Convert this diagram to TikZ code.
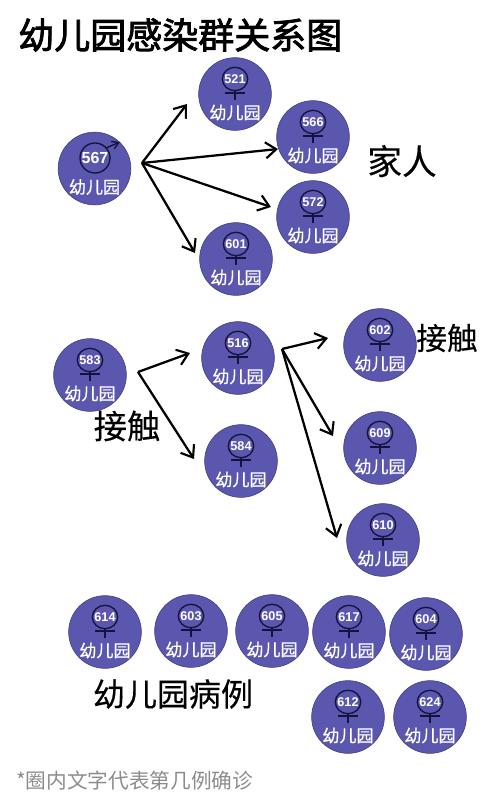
\documentclass[tikz,border=0pt]{standalone}
\usepackage{fontspec}
\setmainfont{Liberation Sans}
\newfontfamily\cjk{Noto Sans CJK SC}
\newfontfamily\cjkm{Noto Sans CJK SC}[FakeBold=0.7]
\newfontfamily\cjkl{Noto Sans CJK SC}[FakeBold=0.25]
\newfontfamily\cjkb{Noto Sans CJK SC}[FakeBold=2.2]
\usetikzlibrary{arrows.meta}
\definecolor{kidblue}{HTML}{5B57AE}
\definecolor{symb}{HTML}{14123F}
\tikzset{
  disc/.style={circle,fill=kidblue,draw=kidblue!75!black,line width=0.5pt,minimum size=54.5pt,inner sep=0pt},
  numtext/.style={text=white,font=\bfseries\fontsize{9.5pt}{10pt}\selectfont,inner sep=0pt},
  kidlabel/.style={text=white,font=\cjkm\fontsize{12.8pt}{13pt}\selectfont,inner sep=0pt},
  ring/.style={draw=symb,line width=1pt},
  arrowline/.style={draw=black,line width=1.7pt,-{Straight Barb[length=8pt,width=12pt,line width=1.6pt]}},
  big/.style={text=black,inner sep=0pt,font=\cjkl\fontsize{23.5pt}{24pt}\selectfont},
}
\newcommand{\kidf}[4]{%
  \node[disc] (k#4) at (#1,#2) {};
  \draw[ring] (#1,#2-15) ellipse[x radius=12.7,y radius=11.7];
  \draw[ring] (#1,#2-3.3) -- (#1,#2+6) (#1-10,#2-1) -- (#1+10,#2-1);
  \node[numtext] at (#1,#2-15) {#3};
  \node[kidlabel] at (#1,#2+18.5) {幼儿园};
}
\begin{document}
\begin{tikzpicture}[x=0.75pt,y=-0.75pt]
\useasboundingbox (0,0) rectangle (487,800);
\node[anchor=west,inner sep=0pt,font=\cjkb\fontsize{27pt}{28pt}\selectfont] (title) at (18,35) {幼儿园感染群关系图};

% male
\node[disc] (k567) at (94.5,168.5) {};
\draw[ring] (95,158) circle[radius=15];
\draw[ring,-{Straight Barb[length=5pt,width=6pt]}] (106,148) -- (120,142);
\node[numtext,font=\bfseries\fontsize{12pt}{12pt}\selectfont] at (95,158) {567};
\node[kidlabel] at (94.5,187) {幼儿园};

\kidf{235}{94}{521}{521}
\kidf{313}{137}{566}{566}
\kidf{313}{217}{572}{572}
\kidf{236}{259}{601}{601}
\kidf{90}{375}{583}{583}
\kidf{238}{358}{516}{516}
\kidf{241}{461}{584}{584}
\kidf{380}{345}{602}{602}
\kidf{380}{448}{609}{609}
\kidf{383}{540}{610}{610}
\kidf{105}{632}{614}{614}
\kidf{191}{631}{603}{603}
\kidf{272}{631}{605}{605}
\kidf{349}{632}{617}{617}
\kidf{426}{634}{604}{604}
\kidf{348}{717}{612}{612}
\kidf{430}{717}{624}{624}

\coordinate (hubA) at (142,163);
\coordinate (hubB) at (138,372);
\coordinate (hubC) at (282,349);
\coordinate (a1) at (187,104);
\coordinate (a2) at (278,149);
\coordinate (a3) at (271,207);
\coordinate (a4) at (195,253);
\coordinate (b1) at (190,353);
\coordinate (b2) at (194,459);
\coordinate (c1) at (328,338);
\coordinate (c2) at (333,436);
\coordinate (c3) at (337,538);
\foreach \t in {a1,a2,a3,a4} \draw[arrowline] (hubA) -- (\t);
\foreach \t in {b1,b2} \draw[arrowline] (hubB) -- (\t);
\foreach \t in {c1,c2,c3} \draw[arrowline] (hubC) -- (\t);

\node[big,font=\cjkl\fontsize{26pt}{26pt}\selectfont] (tA) at (402,161) {家人};
\node[big,font=\cjkl\fontsize{23pt}{23pt}\selectfont] (tB) at (447,338) {接触};
\node[big,font=\cjkl\fontsize{25pt}{25pt}\selectfont] (tC) at (127,426) {接触};
\node[big,font=\cjkl\fontsize{24pt}{24pt}\selectfont] (tD) at (173,694) {幼儿园病例};
\node[anchor=west,inner sep=0pt,text=black!45,font=\cjk\fontsize{15.5pt}{16pt}\selectfont] (foot) at (16,781) {*圈内文字代表第几例确诊};
\end{tikzpicture}
\end{document}
